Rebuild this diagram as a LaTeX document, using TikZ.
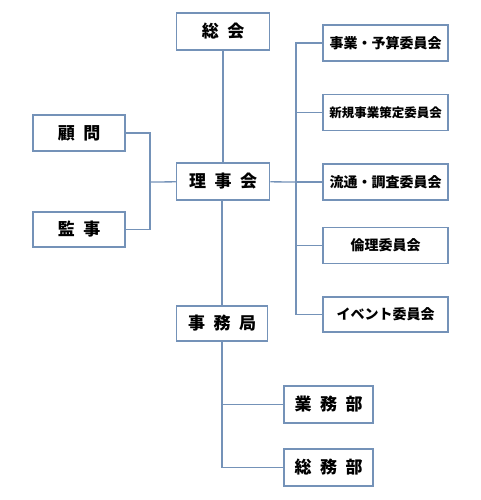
\documentclass[tikz,border=0pt]{standalone}
\usepackage{fontspec}
\setmainfont{Noto Sans CJK JP}
\usetikzlibrary{positioning}
\definecolor{frameblue}{RGB}{116,146,184}
\tikzset{
  orgbox/.style={draw=frameblue,line width=1.5pt,fill=white,minimum width=93pt,
    minimum height=37pt,inner sep=0pt,font=\fontsize{17}{17}\selectfont\bfseries},
  combox/.style={orgbox,minimum width=125pt,minimum height=36pt,
    font=\fontsize{14}{14}\selectfont\bfseries},
  link/.style={draw=frameblue,line width=1.3pt}
}

\begin{document}
\begin{tikzpicture}[x=1pt,y=-1pt]
  \useasboundingbox (0,0) rectangle (480,500);
  % center column
  \node[orgbox] (sokai) at (223,31.5) {総\enspace 会};
  \node[orgbox] (riji) at (223,181.5) {理\enspace 事\enspace 会};
  \node[orgbox,minimum width=91pt,minimum height=35pt] (jimu) at (222,323.5) {事\enspace 務\enspace 局};
  % left side
  \node[orgbox,minimum width=92pt,minimum height=36pt] (komon) at (79,133) {顧\enspace 問};
  \node[orgbox,minimum width=92pt,minimum height=35pt] (kanji) at (79,229.5) {監\enspace 事};
  % committees
  \node[combox] (iin1) at (385.5,43) {事業・予算委員会};
  \node[combox,font=\fontsize{12.5}{12.5}\selectfont\bfseries] (iin2) at (385.5,112.5) {新規事業策定委員会};
  \node[combox] (iin3) at (385.5,182) {流通・調査委員会};
  \node[combox] (iin4) at (385.5,245.5) {倫理委員会};
  \node[combox,minimum height=35pt] (iin5) at (385.5,314.5) {イベント委員会};
  % secretariat
  \node[orgbox,minimum width=89pt] (gyomu) at (328.5,404.5) {業\enspace 務\enspace 部};
  \node[orgbox,minimum width=89pt] (somu) at (328.5,467.5) {総\enspace 務\enspace 部};

  \coordinate (ljoin) at (150,182);
  \coordinate (rjoin) at (296,182);
  \draw[link] (sokai) -- (riji);
  \draw[link] (riji.south -| jimu) -- (jimu);
  \draw[link] (komon) -| (ljoin);
  \draw[link] (kanji) -| (ljoin);
  \draw[link] (ljoin) -- (riji);
  \draw[link] (riji) -- (rjoin);
  \foreach \i in {1,...,5}
    \draw[link] (iin\i) -| (rjoin);
  \draw[link] (jimu) |- (gyomu);
  \draw[link] (jimu) |- (somu);
\end{tikzpicture}
\end{document}
